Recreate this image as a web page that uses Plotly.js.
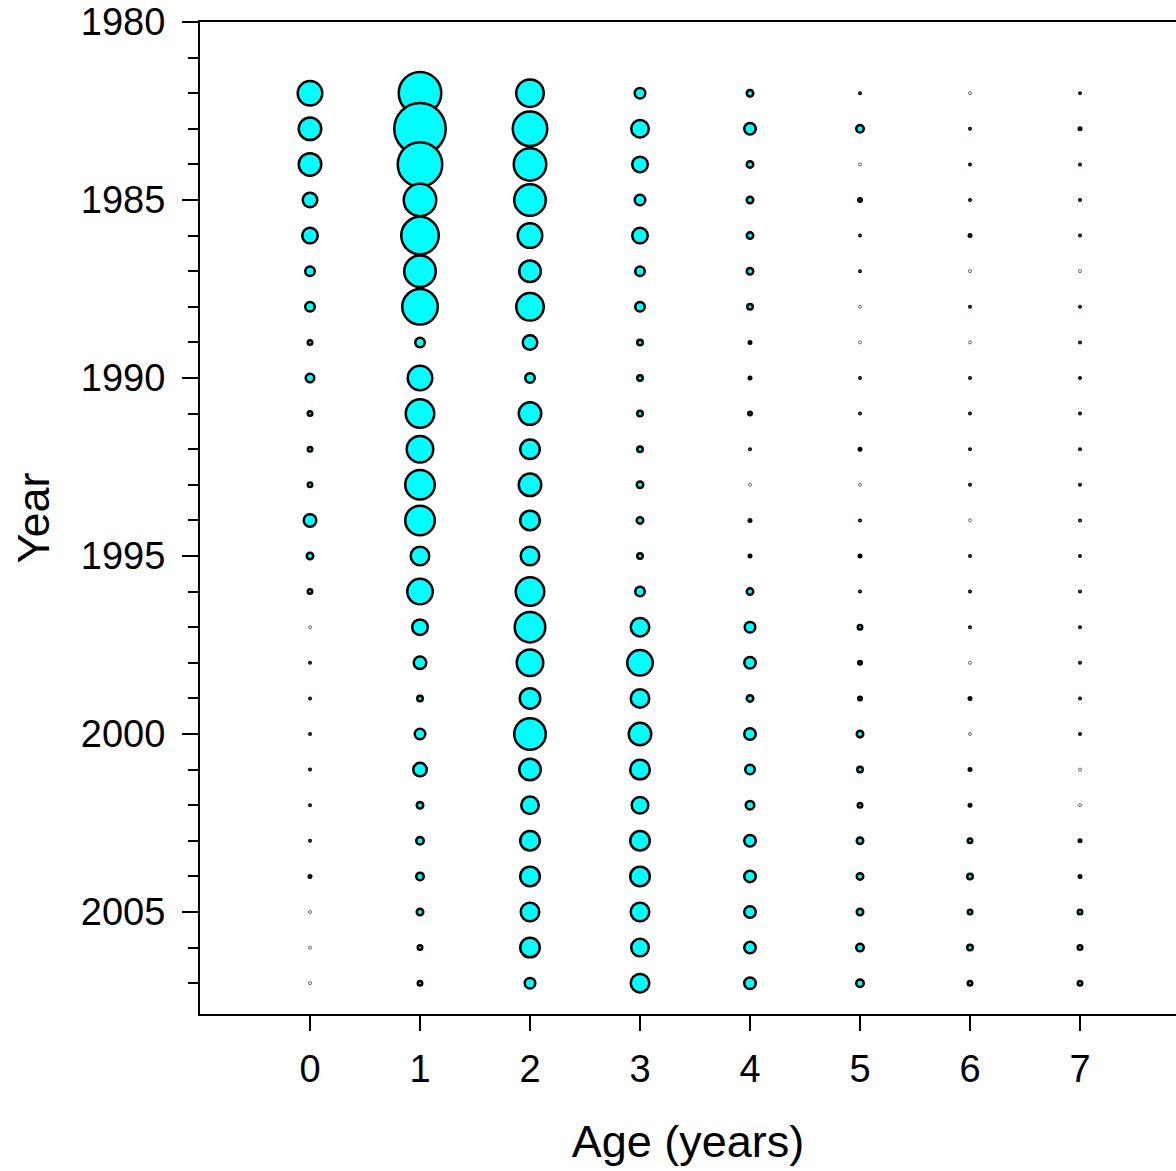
<!DOCTYPE html>
<html>
<head>
<meta charset="utf-8">
<script src="https://cdn.plot.ly/plotly-3.0.1.min.js"></script>
<style>html,body{margin:0;padding:0;background:#fff;overflow:hidden}</style>
</head>
<body>
<div id="chart" style="width:1176px;height:1171px"></div>
<script>
// Ages (x) and years (y)
const ages = [0, 1, 2, 3, 4, 5, 6, 7];
const years = [1982, 1983, 1984, 1985, 1986, 1987, 1988, 1989, 1990, 1991, 1992, 1993, 1994,
               1995, 1996, 1997, 1998, 1999, 2000, 2001, 2002, 2003, 2004, 2005, 2006, 2007];

// Relative bubble magnitude (proportional to circle radius) per age, by year
const age0 = [27, 25, 25, 17, 18, 12, 12, 7, 11, 7, 7, 7, 15, 9, 7, 0, 3, 3, 3, 3, 3, 3, 5, 0, 0, 0];
const age1 = [45, 54, 47, 35, 40, 34, 38, 12, 27, 31, 29, 32, 32, 21, 28, 18, 15, 8, 13, 16, 9, 10, 10, 9, 7, 7];
const age2 = [30, 37, 35, 34, 27, 24, 30, 17, 12, 25, 22, 25, 22, 21, 31, 33, 29, 23, 34, 24, 20, 22, 22, 21, 22, 13];
const age3 = [13, 20, 18, 13, 18, 12, 12, 8, 8, 8, 8, 9, 9, 8, 12, 21, 28, 21, 25, 22, 19, 22, 22, 21, 20, 21];
const age4 = [9, 14, 9, 9, 9, 9, 8, 5, 5, 6, 4, 0, 5, 5, 9, 13, 14, 9, 14, 12, 11, 14, 14, 14, 14, 14];
const age5 = [3, 10, 0, 6, 4, 3, 0, 0, 3, 3, 5, 0, 3, 5, 3, 7, 6, 6, 9, 8, 7, 9, 9, 9, 10, 10];
const age6 = [0, 3, 3, 3, 5, 0, 3, 0, 3, 3, 3, 3, 0, 3, 3, 3, 0, 5, 0, 5, 5, 7, 8, 7, 8, 7];
const age7 = [3, 5, 3, 3, 3, 0, 3, 3, 3, 3, 3, 3, 3, 3, 3, 3, 3, 3, 3, 0, 0, 5, 5, 7, 7, 7];

const xTickLabels = ['0', '1', '2', '3', '4', '5', '6', '7'];
const yTickLabels = ['1980', '1985', '1990', '1995', '2000', '2005'];
const yTickVals = [1980, 1985, 1990, 1995, 2000, 2005];

const series = [age0, age1, age2, age3, age4, age5, age6, age7];

const SCALE = 1;      // px per unit of magnitude (outer diameter)
const LW = 2.5;       // outline width
const xs = [], ys = [], sizes = [], lineW = [], lineC = [], fills = [];
ages.forEach((a, i) => {
  years.forEach((yr, j) => {
    const v = series[i][j];
    xs.push(a); ys.push(yr);
    if (v > 0) {
      sizes.push(Math.max(v * SCALE - LW, 1.5));
      lineW.push(LW); lineC.push('#000000'); fills.push('#00FFFF');
    } else {
      sizes.push(3);
      lineW.push(1); lineC.push('#666666'); fills.push('#FFFFFF');
    }
  });
});

const trace = {
  type: 'scatter', mode: 'markers', x: xs, y: ys,
  marker: { symbol: 'circle', size: sizes, color: fills, opacity: 1,
            line: { width: lineW, color: lineC } },
  hoverinfo: 'x+y', showlegend: false, cliponaxis: false
};

const font = 'Liberation Sans, Arial, Helvetica, sans-serif';
const layout = {
  width: 1176, height: 1171,
  margin: { l: 200, r: 0, t: 22, b: 157, pad: 0 },
  paper_bgcolor: '#ffffff', plot_bgcolor: '#ffffff',
  showlegend: false,
  font: { family: font, color: '#000000', size: 38 },
  xaxis: {
    range: [-1, -1 + 976 / 110],
    tickvals: ages, ticktext: xTickLabels,
    ticks: 'outside', ticklen: 15, tickwidth: 2, tickcolor: '#000',
    showline: true, linewidth: 2, linecolor: '#000', mirror: true,
    showgrid: false, zeroline: false,
    tickfont: { family: font, size: 38, color: '#000' },
    ticklabelstandoff: 5,
    title: { text: 'Age (years)', font: { family: font, size: 45, color: '#000' }, standoff: 37 }
  },
  yaxis: {
    range: [1980 + 992 / 35.6, 1980],
    tickvals: yTickVals, ticktext: yTickLabels,
    ticks: 'outside', ticklen: 16, tickwidth: 2, tickcolor: '#000',
    minor: { dtick: 1, tick0: 1980, ticks: 'outside', ticklen: 10, tickwidth: 2, tickcolor: '#000', showgrid: false },
    showline: true, linewidth: 2, linecolor: '#000', mirror: false,
    showgrid: false, zeroline: false,
    tickfont: { family: font, size: 38, color: '#000' },
    ticklabelstandoff: 9,
    title: { text: 'Year', font: { family: font, size: 45, color: '#000' }, standoff: 17 }
  }
};

Plotly.newPlot('chart', [trace], layout, { displayModeBar: false, staticPlot: true });
</script>
</body>
</html>
